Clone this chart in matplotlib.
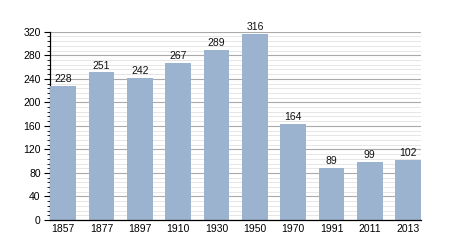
import matplotlib
matplotlib.use("Agg")
import matplotlib.pyplot as plt
from matplotlib.ticker import MultipleLocator

years = ["1857", "1877", "1897", "1910", "1930", "1950", "1970", "1991", "2011", "2013"]
values = [228, 251, 242, 267, 289, 316, 164, 89, 99, 102]
yticks = [0, 40, 80, 120, 160, 200, 240, 280, 320]

plt.rcParams['font.family'] = ['Liberation Sans', 'DejaVu Sans']

fig = plt.figure(figsize=(4.5, 2.5), dpi=100)
ax = fig.add_axes([0.112, 0.12, 0.9356 - 0.112, 0.873 - 0.12])

w = 0.67
x = list(range(len(years)))
ax.bar(x, values, width=w, color="#9cb3cf", zorder=3)
for xi, v in zip(x, values):
    ax.text(xi, v + 3, str(v), ha="center", va="bottom", fontsize=7.5, color="#111111", zorder=4)

ax.set_xlim(-w / 2, len(years) - 1 + w / 2)
ax.set_ylim(0, 320)
ax.set_yticks(yticks)
ax.yaxis.set_minor_locator(MultipleLocator(8))
ax.set_xticks(x)
ax.set_xticklabels(years)
ax.tick_params(axis="x", length=0, labelsize=7.5, pad=3)
ax.tick_params(axis="y", which="major", length=4, width=0.8, labelsize=7.5, pad=3)
ax.tick_params(axis="y", which="minor", length=2, width=0.6)

ax.grid(axis="y", which="major", color="#aaaaaa", linewidth=0.8, zorder=0)
ax.grid(axis="y", which="minor", color="#e2e2e2", linewidth=0.6, zorder=0)
for s in ["top", "right"]:
    ax.spines[s].set_visible(False)
ax.spines["left"].set_linewidth(0.9)
ax.spines["bottom"].set_linewidth(0.9)
ax.spines["bottom"].set_zorder(5)

fig.savefig("out.png", dpi=100)
